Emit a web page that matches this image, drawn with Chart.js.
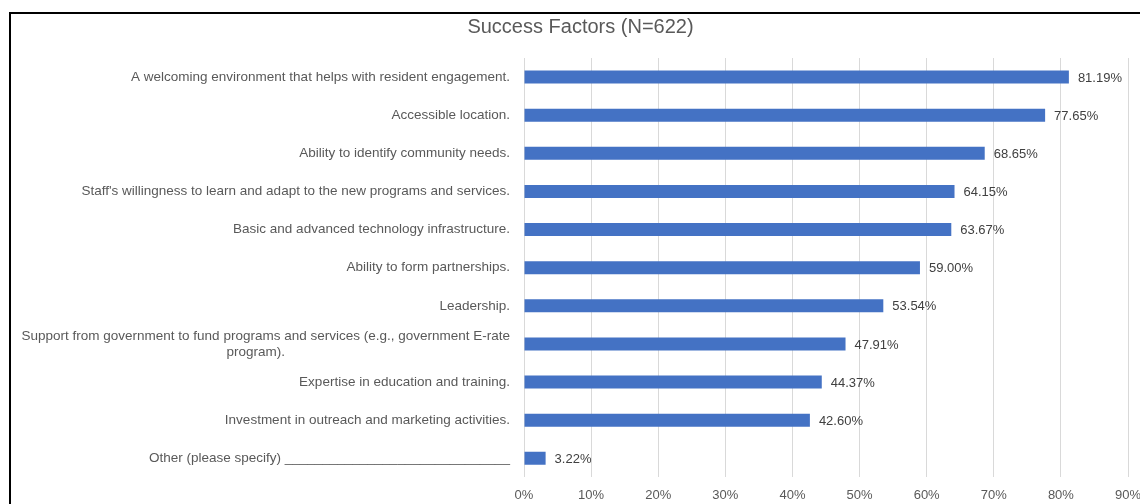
<!DOCTYPE html>
<html>
<head>
<meta charset="utf-8">
<script src="https://cdn.jsdelivr.net/npm/chart.js@4/dist/chart.umd.min.js"></script>
<style>
    html, body { margin: 0; padding: 0; background: #fff; }
    #wrap { position: relative; width: 1140px; height: 504px; overflow: hidden; }
    #frame { position: absolute; left: 9px; top: 12px; right: -4px; bottom: -4px;
             border-top: 2px solid #000; border-left: 2px solid #000; pointer-events: none; }
    canvas { position: absolute; left: 0; top: 0; }
</style>
</head>
<body>
<div id="wrap">
    <canvas id="factorsChart" width="1140" height="504"></canvas>
    <div id="frame"></div>
</div>
<script>
const titleText = 'Success Factors (N=622)';

const categories = [
    'A welcoming environment that helps with resident engagement.',
    'Accessible location.',
    'Ability to identify community needs.',
    "Staff's willingness to learn and adapt to the new programs and services.",
    'Basic and advanced technology infrastructure.',
    'Ability to form partnerships.',
    'Leadership.',
    // second line padded with spaces so it sits roughly centred under the first
    ['Support from government to fund programs and services (e.g., government E-rate',
     'program).' + ' '.repeat(60)],
    'Expertise in education and training.',
    'Investment in outreach and marketing activities.',
    'Other (please specify) ______________________________'
];

const percentages = [81.19, 77.65, 68.65, 64.15, 63.67, 59.00, 53.54, 47.91, 44.37, 42.60, 3.22];

const tickValues = [0, 10, 20, 30, 40, 50, 60, 70, 80, 90];

const FONT = "'Liberation Sans', Arial, sans-serif";
const TEXT = '#595959';

// value labels to the right of each bar
const valueLabels = {
    id: 'valueLabels',
    afterDatasetsDraw(chart) {
        const ctx = chart.ctx;
        const meta = chart.getDatasetMeta(0);
        ctx.save();
        ctx.font = '13px ' + FONT;
        ctx.fillStyle = '#404040';
        ctx.textAlign = 'left';
        ctx.textBaseline = 'middle';
        meta.data.forEach((bar, i) => {
            ctx.fillText(percentages[i].toFixed(2) + '%', bar.x + 9, bar.y + 1);
        });
        ctx.restore();
    }
};

// title sits a bit right of the canvas centre in the original
const shiftTitle = {
    id: 'shiftTitle',
    afterLayout(chart) {
        if (chart.titleBlock) chart.titleBlock.left = 33;
    }
};

const ctx = document.getElementById('factorsChart').getContext('2d');
const chart = new Chart(ctx, {
    type: 'bar',
    data: {
        labels: categories,
        datasets: [{
            data: percentages,
            backgroundColor: '#4472C4',
            borderWidth: 0,
            barPercentage: 0.34,
            categoryPercentage: 1
        }]
    },
    options: {
        indexAxis: 'y',
        responsive: false,
        animation: false,
        layout: { padding: { top: 15, left: 9, right: 12, bottom: -9 } },
        plugins: {
            legend: { display: false },
            tooltip: { enabled: false },
            title: {
                display: true,
                text: titleText,
                color: TEXT,
                font: { family: FONT, size: 20, weight: 'normal' },
                padding: { top: 0, bottom: 19 }
            }
        },
        scales: {
            x: {
                min: 0,
                max: 90,
                afterBuildTicks: scale => { scale.ticks = tickValues.map(v => ({ value: v })); },
                // let the last tick label run into the right margin like the original
                afterFit: scale => { scale.paddingRight = 0; },
                ticks: {
                    color: TEXT,
                    font: { family: FONT, size: 13 },
                    padding: 10,
                    callback: v => v + '%'
                },
                grid: { color: '#d9d9d9', drawTicks: false },
                border: { display: false }
            },
            y: {
                afterFit: scale => { scale.width = 515; },
                ticks: {
                    color: TEXT,
                    font: { family: FONT, size: 13.5 },
                    padding: 14,
                    autoSkip: false
                },
                grid: { display: false, drawTicks: false },
                border: { display: false }
            }
        }
    },
    plugins: [valueLabels, shiftTitle]
});
</script>
</body>
</html>
